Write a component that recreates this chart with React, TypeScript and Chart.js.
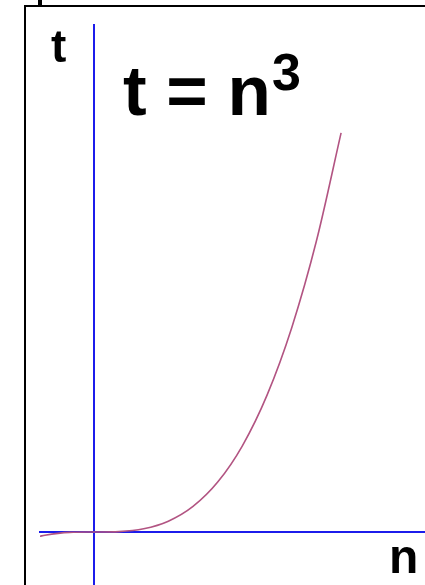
import React, { useEffect, useRef } from "react";
import { Chart, registerables } from "chart.js";

Chart.register(...registerables);

// Sample points of t = n^3
const nValues = [-1.1, -1, -0.5, 0, 0.5, 1, 1.5, 2, 2.5, 3, 3.5, 4, 4.5, 5];
const tValues = [-1.331, -1, -0.125, 0, 0.125, 1, 3.375, 8, 15.625, 27, 42.875, 64, 91.125, 125];

// Axis extents
const nRange = [-1.1, 6.7];
const tRange = [-16.6, 158.8];

// Captions
const formulaBase = "t = n";
const formulaExp = "3";
const yAxisName = "t";
const xAxisName = "n";

const FONT = '"Liberation Sans", Arial, sans-serif';
const AXIS_BLUE = "rgb(28, 28, 235)";

const framePlugin = {
  id: "frameAndText",
  beforeDraw(chart: any) {
    const ctx = chart.ctx;
    ctx.save();
    ctx.fillStyle = "#fff";
    ctx.fillRect(0, 0, chart.width, chart.height);
    ctx.fillStyle = "#000";
    // page frame: left and top rules plus the small tab
    ctx.fillRect(24, 5, 2, chart.height - 5);
    ctx.fillRect(24, 5, chart.width - 24, 2);
    ctx.fillRect(38, 0, 4, 6);
    ctx.restore();
  },
  afterDraw(chart: any) {
    const ctx = chart.ctx;
    ctx.save();
    ctx.fillStyle = "#000";
    ctx.textBaseline = "alphabetic";
    ctx.textAlign = "left";
    ctx.font = `bold 46px ${FONT}`;
    ctx.fillText(yAxisName, 51, 62);
    ctx.font = `bold 48px ${FONT}`;
    ctx.fillText(xAxisName, 389, 573);
    ctx.font = `bold 71px ${FONT}`;
    ctx.fillText(formulaBase, 123, 115);
    const w = ctx.measureText(formulaBase).width;
    ctx.font = `bold 52px ${FONT}`;
    ctx.fillText(formulaExp, 123 + w + 1, 90);
    ctx.restore();
  },
};

export default function App() {
  const canvasRef = useRef<HTMLCanvasElement | null>(null);

  useEffect(() => {
    const canvas = canvasRef.current;
    if (!canvas) return;
    const chart = new Chart(canvas, {
      type: "line",
      data: {
        datasets: [
          {
            data: nValues.map((n, i) => ({ x: n, y: tValues[i] })),
            borderColor: "rgb(178, 84, 130)",
            borderWidth: 1.6,
            pointRadius: 0,
            fill: false,
            cubicInterpolationMode: "monotone",
          },
        ],
      },
      options: {
        animation: false,
        responsive: false,
        devicePixelRatio: 1,
        layout: { padding: { left: 40, top: 25, right: 0, bottom: 0 } },
        plugins: {
          legend: { display: false },
          tooltip: { enabled: false },
          title: { display: false },
        },
        scales: {
          x: {
            type: "linear",
            min: nRange[0],
            max: nRange[1],
            position: { y: 0 },
            grid: { display: false },
            ticks: { display: false },
            border: { display: true, color: AXIS_BLUE, width: 2 },
          },
          y: {
            type: "linear",
            min: tRange[0],
            max: tRange[1],
            position: { x: 0 },
            grid: { display: false },
            ticks: { display: false },
            border: { display: true, color: AXIS_BLUE, width: 2 },
          },
        },
      },
      plugins: [framePlugin],
    });
    return () => chart.destroy();
  }, []);

  return (
    <div style={{ position: "fixed", left: 0, top: 0, width: 425, height: 585, background: "#fff" }}>
      <canvas ref={canvasRef} width={425} height={585} style={{ display: "block" }} />
    </div>
  );
}
